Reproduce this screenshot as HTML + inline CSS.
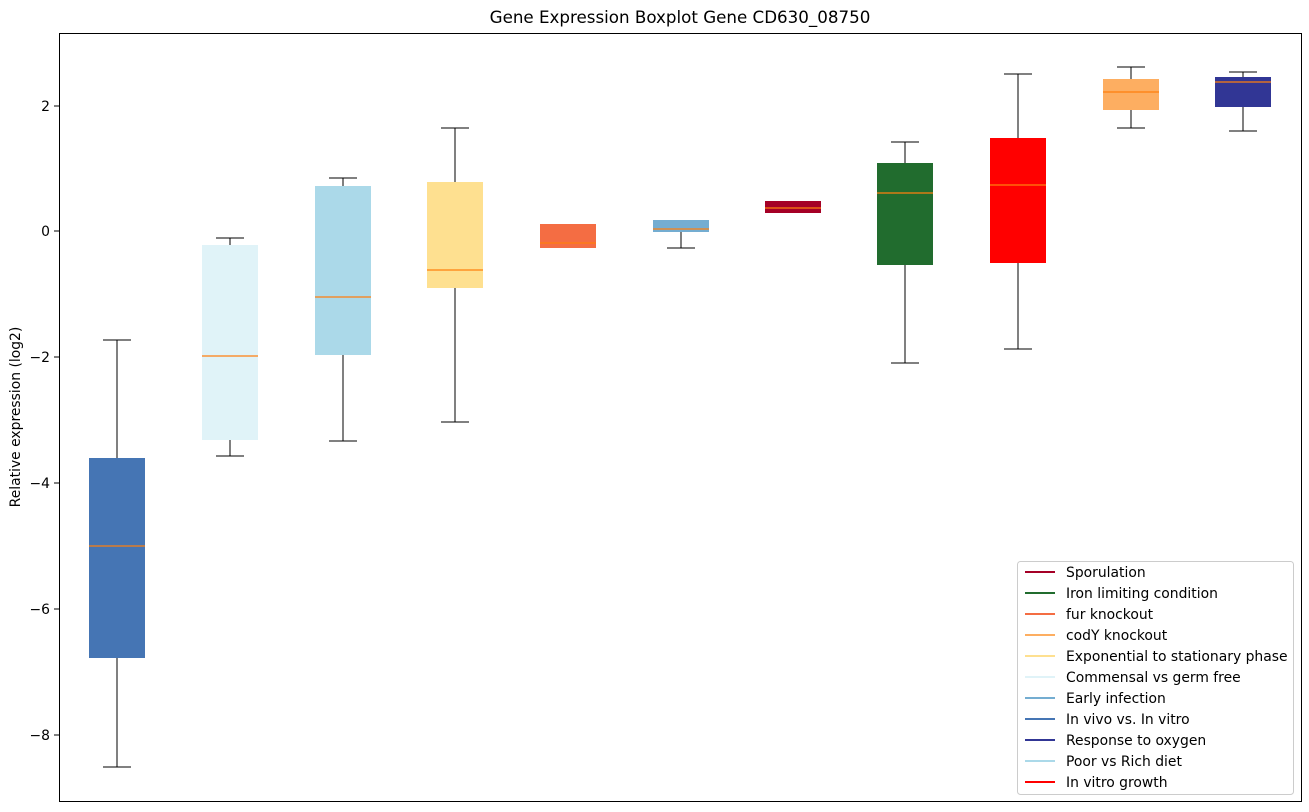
<!DOCTYPE html>
<html><head><meta charset="utf-8"><style>body{margin:0;background:#fff}svg{display:block;font-family:"DejaVu Sans","Liberation Sans",sans-serif}</style></head><body>
<svg width="1309" height="812" xmlns="http://www.w3.org/2000/svg">
<rect width="1309" height="812" fill="#fff"/>
<text x="680" y="23" font-size="16.7" text-anchor="middle">Gene Expression Boxplot Gene CD630_08750</text>
<g stroke="#000" stroke-width="1" shape-rendering="crispEdges">
<line x1="54" y1="106" x2="59" y2="106"/><line x1="54" y1="231" x2="59" y2="231"/><line x1="54" y1="357" x2="59" y2="357"/><line x1="54" y1="483" x2="59" y2="483"/><line x1="54" y1="609" x2="59" y2="609"/><line x1="54" y1="735" x2="59" y2="735"/>
</g>
<g font-size="13.9" text-anchor="end">
<text x="50" y="111">2</text><text x="50" y="236">0</text><text x="50" y="362">−2</text><text x="50" y="488">−4</text><text x="50" y="614">−6</text><text x="50" y="740">−8</text>
</g>
<text transform="translate(20,417) rotate(-90)" font-size="13.9" text-anchor="middle">Relative expression (log2)</text>
<g stroke="#000" stroke-width="1.2" shape-rendering="crispEdges">
<line x1="117" y1="340" x2="117" y2="767"/><line x1="103" y1="340" x2="131" y2="340"/><line x1="103" y1="767" x2="131" y2="767"/>
<line x1="230" y1="238" x2="230" y2="456"/><line x1="216" y1="238" x2="244" y2="238"/><line x1="216" y1="456" x2="244" y2="456"/>
<line x1="343" y1="178" x2="343" y2="441"/><line x1="329" y1="178" x2="357" y2="178"/><line x1="329" y1="441" x2="357" y2="441"/>
<line x1="455" y1="128" x2="455" y2="422"/><line x1="441" y1="128" x2="469" y2="128"/><line x1="441" y1="422" x2="469" y2="422"/>
<line x1="681" y1="220" x2="681" y2="248"/><line x1="667" y1="248" x2="695" y2="248"/>
<line x1="905" y1="142" x2="905" y2="363"/><line x1="891" y1="142" x2="919" y2="142"/><line x1="891" y1="363" x2="919" y2="363"/>
<line x1="1018" y1="74" x2="1018" y2="349"/><line x1="1004" y1="74" x2="1032" y2="74"/><line x1="1004" y1="349" x2="1032" y2="349"/>
<line x1="1131" y1="67" x2="1131" y2="128"/><line x1="1117" y1="67" x2="1145" y2="67"/><line x1="1117" y1="128" x2="1145" y2="128"/>
<line x1="1243" y1="72" x2="1243" y2="131"/><line x1="1229" y1="72" x2="1257" y2="72"/><line x1="1229" y1="131" x2="1257" y2="131"/>
</g>
<g>
<rect x="89" y="458" width="56" height="200" fill="#4575b4"/>
<rect x="202" y="245" width="56" height="195" fill="#e0f3f8"/>
<rect x="315" y="186" width="56" height="169" fill="#abd9e9"/>
<rect x="427" y="182" width="56" height="106" fill="#fee090"/>
<rect x="540" y="224" width="56" height="24" fill="#f46d43"/>
<rect x="653" y="220" width="56" height="12" fill="#74add1"/>
<rect x="765" y="201" width="56" height="12" fill="#a50026"/>
<rect x="877" y="163" width="56" height="102" fill="#216c2e"/>
<rect x="990" y="138" width="56" height="125" fill="#ff0000"/>
<rect x="1103" y="79" width="56" height="31" fill="#fdae61"/>
<rect x="1215" y="77" width="56" height="30" fill="#313695"/>
</g>
<g stroke="#ff7f0e" stroke-width="1.2">
<line x1="89" y1="546" x2="145" y2="546"/>
<line x1="202" y1="356" x2="258" y2="356"/>
<line x1="315" y1="297" x2="371" y2="297"/>
<line x1="427" y1="270" x2="483" y2="270"/>
<line x1="540" y1="243" x2="596" y2="243"/>
<line x1="653" y1="229" x2="709" y2="229"/>
<line x1="765" y1="208" x2="821" y2="208"/>
<line x1="877" y1="193" x2="933" y2="193"/>
<line x1="990" y1="185" x2="1046" y2="185"/>
<line x1="1103" y1="92" x2="1159" y2="92"/>
<line x1="1215" y1="82" x2="1271" y2="82"/>
</g>
<rect x="59.5" y="33.5" width="1242" height="768" fill="none" stroke="#000"/>
<rect x="1017.5" y="561.5" width="276" height="233" rx="3" fill="#fff" stroke="#ccc"/>
<g font-size="13.9" stroke-width="2">
<line x1="1025" y1="572" x2="1055" y2="572" stroke="#a50026"/><text x="1066" y="577">Sporulation</text>
<line x1="1025" y1="593" x2="1055" y2="593" stroke="#216c2e"/><text x="1066" y="598">Iron limiting condition</text>
<line x1="1025" y1="614" x2="1055" y2="614" stroke="#f46d43"/><text x="1066" y="619">fur knockout</text>
<line x1="1025" y1="635" x2="1055" y2="635" stroke="#fdae61"/><text x="1066" y="640">codY knockout</text>
<line x1="1025" y1="656" x2="1055" y2="656" stroke="#fee090"/><text x="1066" y="661">Exponential to stationary phase</text>
<line x1="1025" y1="677" x2="1055" y2="677" stroke="#e0f3f8"/><text x="1066" y="682">Commensal vs germ free</text>
<line x1="1025" y1="698" x2="1055" y2="698" stroke="#74add1"/><text x="1066" y="703">Early infection</text>
<line x1="1025" y1="719" x2="1055" y2="719" stroke="#4575b4"/><text x="1066" y="724">In vivo vs. In vitro</text>
<line x1="1025" y1="740" x2="1055" y2="740" stroke="#313695"/><text x="1066" y="745">Response to oxygen</text>
<line x1="1025" y1="761" x2="1055" y2="761" stroke="#abd9e9"/><text x="1066" y="766">Poor vs Rich diet</text>
<line x1="1025" y1="782" x2="1055" y2="782" stroke="#ff0000"/><text x="1066" y="787">In vitro growth</text>
</g>
</svg>
</body></html>
